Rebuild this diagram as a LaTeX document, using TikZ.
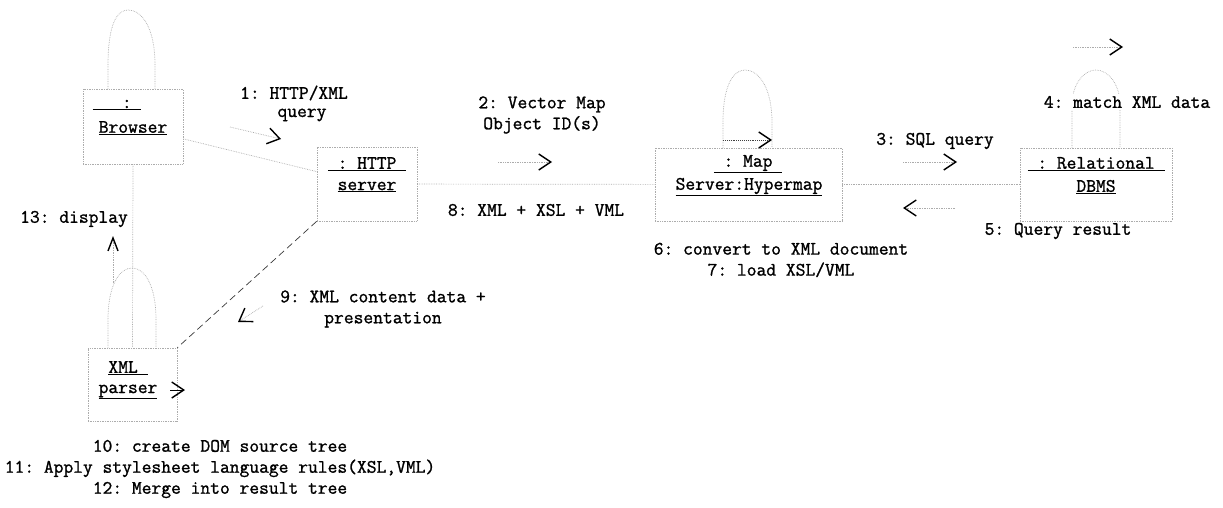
\documentclass[tikz,border=0pt]{standalone}
\usepackage{fontspec}
\setmonofont{Latin Modern Mono}[FakeBold=1.2]
\usetikzlibrary{arrows.meta}
\begin{document}
\begin{tikzpicture}[x=1pt,y=-1pt,
  obj/.style={draw=gray!65, densely dotted, line width=0.7pt, inner sep=0pt},
  lbl/.style={font=\ttfamily\fontsize{19}{21}\selectfont, inner sep=1pt, text=black, align=center},
  conn/.style={draw=gray!65, densely dotted, line width=0.7pt},
  head/.style={-{Straight Barb[black, length=12pt, width=16pt, line width=1.4pt]}},
  msg/.style={conn, head},
]
\useasboundingbox (0,0) rectangle (1223,508);

% objects
\node[obj, minimum width=100pt, minimum height=75pt] (browser) at (133,126.5) {};
\node[obj, minimum width=100pt, minimum height=74pt] (http) at (367,184) {};
\node[obj, minimum width=187pt, minimum height=73pt] (map) at (748.5,184.5) {};
\node[obj, minimum width=152pt, minimum height=73pt] (dbms) at (1096,184.5) {};
\node[obj, minimum width=89pt, minimum height=73pt] (parser) at (132.5,384.5) {};

% object names
\node[lbl] (b1) at (117,105) {\underline{\ \ \ :\ }};
\node[lbl] (b2) at (133,128) {\underline{Browser}};
\node[lbl] (h1) at (367,164) {\underline{\ :\ HTTP\ }};
\node[lbl] (h2) at (367,187) {\underline{server}};
\node[lbl] (m1) at (748,164) {\underline{\ :\ Map\ }};
\node[lbl] (m2) at (749,187) {\underline{Server:Hypermap}};
\node[lbl] (d1) at (1096,164) {\underline{\ :\ Relational\ }};
\node[lbl] (d2) at (1096,187) {\underline{DBMS}};
\node[lbl] (p1) at (128,368) {\underline{XML\ }};
\node[lbl] (p2) at (128,392) {\underline{parser}};

% links
\draw[conn] (browser) -- (http);
\draw[conn] (http) -- (map);
\draw[conn] (map) -- (dbms);
\draw[conn] (browser.south) -- (parser.north);
\draw[draw=gray!45!black, dash pattern=on 7pt off 4pt, line width=0.7pt] (http.south west) -- (parser.north east);

% self loops
\draw[conn] ([xshift=-25pt]browser.north) -- (108,65) .. controls (108,22) and (118,10) .. (128,10)
  .. controls (142,10) and (155,28) .. (155,65) -- ([xshift=22pt]browser.north);
\draw[conn] ([xshift=-25.5pt]map.north) -- (723,122) .. controls (723,84) and (734,70) .. (745,70)
  .. controls (760,70) and (772,90) .. (772,122) -- ([xshift=23.5pt]map.north);
\draw[conn] ([xshift=-24pt]dbms.north) -- (1072,105) .. controls (1072,84) and (1084,70) .. (1096,70)
  .. controls (1108,70) and (1120,84) .. (1120,105) -- ([xshift=24pt]dbms.north);
\draw[conn] ([xshift=-24.5pt]parser.north) -- (108,320) .. controls (108,284) and (120,268) .. (132,268)
  .. controls (144,268) and (156,284) .. (156,320) -- ([xshift=23.5pt]parser.north);

% message labels
\node[lbl] (t1) at (294,93) {1: HTTP/XML};
\node[lbl] (t1b) at (302,115) {query};
\node[lbl] (t2) at (542,115) {2: Vector Map\\Object ID(s)};
\node[lbl] (t3) at (935,141) {3: SQL query};
\node[lbl, fill=white, inner sep=2pt] (t4) at (1127,102) {4: match XML data};
\node[lbl] (t5) at (1058,231) {5: Query result};
\node[lbl] (t6) at (781,260) {6: convert to XML document\\7: load XSL/VML};
\node[lbl] (t8) at (536,210) {8: XML + XSL + VML};
\node[lbl] (t9) at (383,309) {9: XML content data +\\presentation};
\node[lbl] (t10) at (220,469) {10: create DOM source tree\\11: Apply stylesheet language rules(XSL,VML)\\12: Merge into result tree};
\node[lbl] (t13) at (74,219) {13: display};

% message arrows
\coordinate (a1s) at (230,127); \coordinate (a1e) at (281,139);
\draw[msg] (a1s) -- (a1e);
\coordinate (a2s) at (498,162); \coordinate (a2e) at (552,162);
\draw[msg] (a2s) -- (a2e);
\coordinate (a3s) at (903,162); \coordinate (a3e) at (957,162);
\draw[msg] (a3s) -- (a3e);
\coordinate (a4s) at (1073,47); \coordinate (a4e) at (1123,47);
\draw[msg] (a4s) -- (a4e);
\coordinate (a5s) at (955,208); \coordinate (a5e) at (903,208);
\draw[msg] (a5s) -- (a5e);
\coordinate (a6s) at (723,140); \coordinate (a6e) at (772,140);
\draw[conn, line width=0.9pt, draw=gray!50!black, head] (a6s) -- (a6e);
\coordinate (a9s) at (263,306); \coordinate (a9e) at (238,322);
\draw[msg] (a9s) -- (a9e);
\coordinate (a13s) at (113,283); \coordinate (a13e) at (113,236);
\draw[conn, -{Straight Barb[black, length=13pt, width=10pt, line width=1.4pt]}] (a13s) -- (a13e);
\coordinate (a10s) at (170,390); \coordinate (a10e) at (185,390);
\draw[head] (a10s) -- (a10e);

\end{tikzpicture}
\end{document}
